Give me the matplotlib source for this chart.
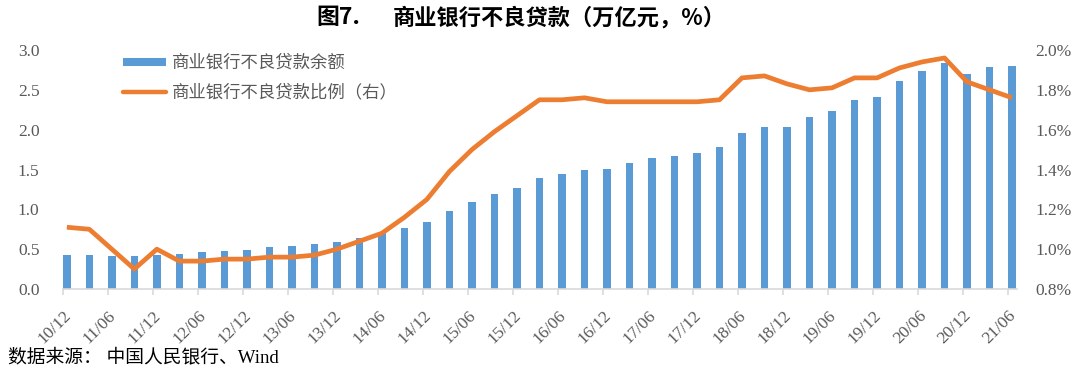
"""
图7. 商业银行不良贷款（万亿元，%）
bars: NPL balance (left axis), line: NPL ratio (right axis)
"""

import numpy as np
import matplotlib
matplotlib.use("Agg")
import matplotlib.pyplot as plt
from matplotlib.lines import Line2D

# -----------------------------
# Data (quarterly, 2010Q4 - 2021Q2)
# -----------------------------
npl_balance = [0.43, 0.43, 0.42, 0.41, 0.43, 0.44, 0.46, 0.48, 0.49, 0.53,
               0.54, 0.56, 0.59, 0.64, 0.70, 0.77, 0.84, 0.98, 1.09, 1.19,
               1.27, 1.39, 1.44, 1.49, 1.51, 1.58, 1.64, 1.67, 1.71, 1.78,
               1.96, 2.03, 2.03, 2.16, 2.24, 2.37, 2.41, 2.61, 2.74, 2.84,
               2.70, 2.79, 2.80]
npl_ratio = [1.11, 1.10, 1.00, 0.90, 1.00, 0.94, 0.94, 0.95, 0.95, 0.96,
             0.96, 0.97, 1.00, 1.04, 1.08, 1.16, 1.25, 1.39, 1.50, 1.59,
             1.67, 1.75, 1.75, 1.76, 1.74, 1.74, 1.74, 1.74, 1.74, 1.75,
             1.86, 1.87, 1.83, 1.80, 1.81, 1.86, 1.86, 1.91, 1.94, 1.96,
             1.84, 1.80, 1.76]
tick_labels = ['10/12', '11/06', '11/12', '12/06', '12/12', '13/06', '13/12',
               '14/06', '14/12', '15/06', '15/12', '16/06', '16/12', '17/06',
               '17/12', '18/06', '18/12', '19/06', '19/12', '20/06', '20/12',
               '21/06']
left_ticks = [0.0, 0.5, 1.0, 1.5, 2.0, 2.5, 3.0]
right_ticks = [0.8, 1.0, 1.2, 1.4, 1.6, 1.8, 2.0]

BLUE = '#5B9BD5'
ORANGE = '#ED7D31'
GREY_TXT = '#595959'
GREY_AX = '#D9D9D9'
NUM_FONT = ['Liberation Serif', 'Noto Sans CJK SC']
CJK_FONT = ['Noto Sans CJK SC', 'DejaVu Sans']
FS = 12.5

plt.rcParams['font.family'] = NUM_FONT

# -----------------------------
# Figure
# -----------------------------
fig = plt.figure(figsize=(10.8, 3.78), dpi=100)
ax = fig.add_axes([63 / 1080, 1 - 289 / 378, (1017 - 63) / 1080, 239 / 378])
ax2 = ax.twinx()

x = np.arange(len(npl_balance))
ax.bar(x, npl_balance, width=0.33, color=BLUE, zorder=2)
ax2.plot(x, npl_ratio, color=ORANGE, lw=3.4, solid_joinstyle='round',
         solid_capstyle='butt', zorder=3)

ax.set_xlim(-0.17, 42.22)
ax.set_ylim(0, 3.0)
ax2.set_ylim(0.8, 2.0)
ax.set_yticks(left_ticks)
ax.set_yticklabels([f'{v:.1f}' for v in left_ticks])
ax2.set_yticks(right_ticks)
ax2.set_yticklabels([f'{v:.1f}%' for v in right_ticks])

tick_pos = np.arange(0, len(npl_balance), 2) - 0.17
ax.set_xticks(tick_pos)
ax.set_xticklabels(tick_labels, rotation=45, ha='right', va='top',
                   rotation_mode='anchor')

for a in (ax, ax2):
    for s in ('top', 'left', 'right', 'bottom'):
        a.spines[s].set_visible(False)
ax.spines['bottom'].set_visible(True)
ax.spines['bottom'].set_color(GREY_AX)
ax.spines['bottom'].set_linewidth(1.2)

ax.tick_params(axis='x', length=4, width=1.2, color=GREY_AX, pad=9.5,
               labelsize=FS, labelcolor=GREY_TXT)
ax.tick_params(axis='y', length=0, pad=17, labelsize=FS, labelcolor=GREY_TXT)
ax2.tick_params(axis='y', length=0, pad=13, labelsize=FS, labelcolor=GREY_TXT)

# legend
handles = [Line2D([], [], color=BLUE, lw=5.8, solid_capstyle='butt'),
           Line2D([], [], color=ORANGE, lw=3.2, solid_capstyle='round')]
labels = ['商业银行不良贷款余额', '商业银行不良贷款比例（右）']
leg = ax2.legend(handles, labels, loc='upper left',
                 bbox_to_anchor=(123 / 1080, 1 - 54 / 378),
                 bbox_transform=fig.transFigure, frameon=False,
                 borderpad=0, borderaxespad=0, handlelength=2.45,
                 handletextpad=0.35, labelspacing=0.68,
                 prop={'family': CJK_FONT, 'size': FS})
for t in leg.get_texts():
    t.set_color(GREY_TXT)

# title and source
fig.text(316 / 1080, 1 - 18 / 378, '图7.', ha='left', va='center',
         fontsize=16.5, fontweight='bold', family=CJK_FONT, color='black')
fig.text(393 / 1080, 1 - 18 / 378, '商业银行不良贷款（万亿元，%）',
         ha='left', va='center', fontsize=16, fontweight='bold',
         family=CJK_FONT, color='black')
fig.text(8 / 1080, 1 - 357 / 378, '数据来源： 中国人民银行、Wind',
         ha='left', va='center', fontsize=13.5, family=NUM_FONT,
         color='black')

fig.savefig('out.png', dpi=100)
